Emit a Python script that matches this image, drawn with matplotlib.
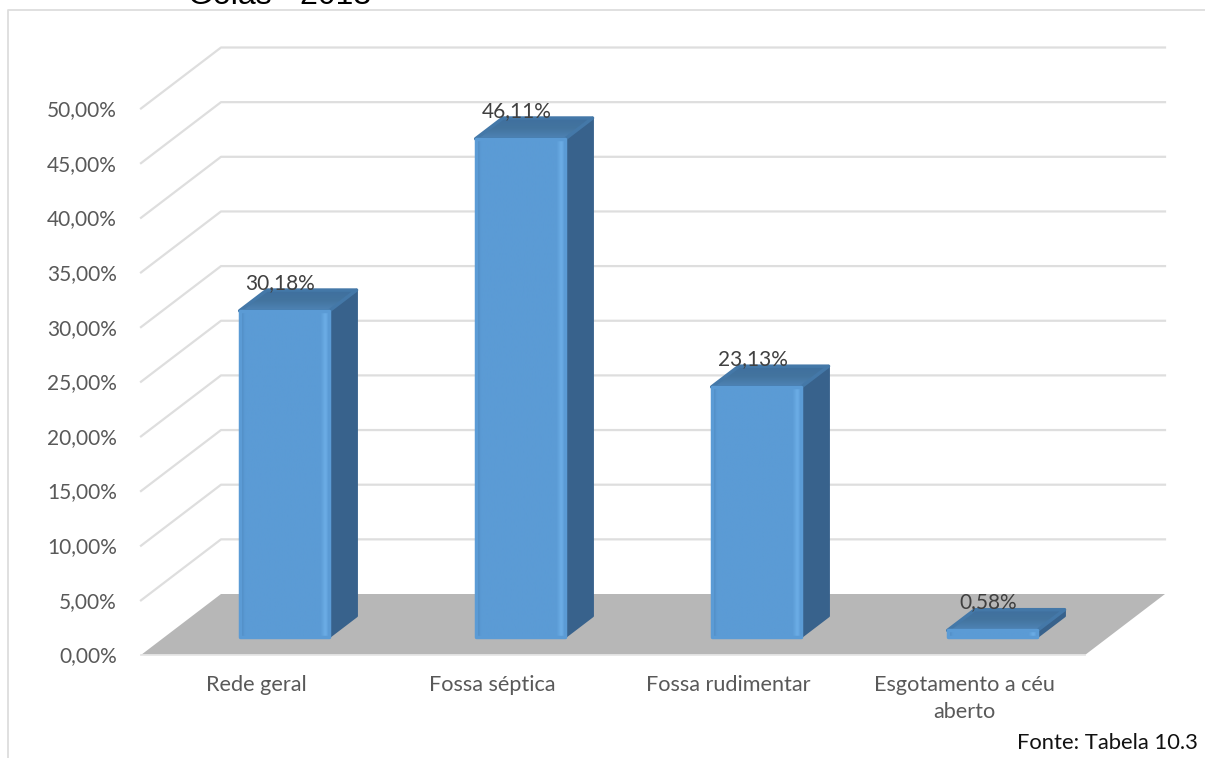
import numpy as np
import matplotlib
matplotlib.use('Agg')
import matplotlib.pyplot as plt
from matplotlib.colors import LinearSegmentedColormap
from matplotlib.patches import Polygon

categories = ['Rede geral', 'Fossa séptica', 'Fossa rudimentar', 'Esgotamento a céu\naberto']
values = [30.18, 46.11, 23.13, 0.58]
value_labels = ['30,18%', '46,11%', '23,13%', '0,58%']
yticks = [0, 5, 10, 15, 20, 25, 30, 35, 40, 45, 50]
ytick_labels = ['0,00%', '5,00%', '10,00%', '15,00%', '20,00%', '25,00%',
                '30,00%', '35,00%', '40,00%', '45,00%', '50,00%']

W, H = 1205, 758
plt.rcParams['font.family'] = ['Lato', 'DejaVu Sans']

fig = plt.figure(figsize=(W / 100, H / 100), dpi=100)

# frame round the chart, drawn in figure coordinates
fig.add_artist(plt.Line2D([8 / W, 8 / W, 1], [0, 1 - 10 / H, 1 - 10 / H], color='#dddddd', lw=1.3))
# the title is cut by the top edge in the reference too
fig.text(188 / W, 1 - 4 / H, 'Goiás - 2013', family='Liberation Sans', fontsize=23, color='black', va='baseline')
fig.text(1198 / W, 1 - 743 / H, 'Fonte: Tabela 10.3', fontsize=15.8, color='#111111', ha='right', va='center')

# axes: front plane of the 3d box
ax = fig.add_axes([141 / W, (H - 655) / H, 944 / W, 546.5 / H])
ax.axis('off')

# depth of the box in data units, one data unit is 236 px across and 10.93 px up
px_x = 1 / 236
px_y = 1 / 10.93
dx_depth = 80 * px_x
dy_depth = 61 * px_y


def proj(x, y, d):
    return (x + d * dx_depth, y + d * dy_depth)


front_cmap = LinearSegmentedColormap.from_list('front', [(0, '#4a84ba'), (0.05, '#5b9bd5'), (0.9, '#5b9bd5'),
                                                         (0.95, '#6cade6'), (1, '#5d9dd7')])
top_cmap = LinearSegmentedColormap.from_list('top', ['#3f6f9e', '#43749f', '#4f84b6'])


def shaded_poly(pts, cmap, vertical, z, edge):
    # gradient image clipped to a round joined polygon
    pts = np.array(pts)
    patch = Polygon(pts, closed=True, fc='none', ec=edge, lw=2.5, joinstyle='round', zorder=z + 0.1, clip_on=False)
    ax.add_patch(patch)
    grad = np.linspace(0, 1, 128).reshape(-1, 1) if vertical else np.linspace(0, 1, 128).reshape(1, -1)
    im = ax.imshow(grad, cmap=cmap, extent=(pts[:, 0].min(), pts[:, 0].max(), pts[:, 1].min(), pts[:, 1].max()),
                   origin='upper' if vertical else 'lower', aspect='auto', zorder=z, interpolation='bilinear')
    im.set_clip_path(patch)


# floor
ax.add_patch(Polygon([proj(0, 0, 0), proj(4, 0, 0), proj(4, 0, 1), proj(0, 0, 1)],
                     closed=True, fc='#b7b7b7', ec='none', zorder=1, clip_on=False))
ax.plot([0, 4], [0, 0], color='#e6e6e6', lw=1.3, zorder=1, clip_on=False)

# walls
for t, lab in zip(yticks, ytick_labels):
    if t > 0:
        xs, ys = zip(proj(0, t, 0), proj(0, t, 1), proj(4, t, 1))
        ax.plot(xs, ys, color='#dedede', lw=1.6, zorder=1, clip_on=False)
    ax.text(-24 * px_x, t - 1.5 * px_y, lab, ha='right', va='center', fontsize=15, color='#595959')

for i, c in enumerate(categories):
    ax.text(i + 0.5 - 3 * px_x, -20 * px_y, c, ha='center', va='top', fontsize=15.6, color='#595959', linespacing=1.42)

# bars, the perspective makes them a little shorter than the front plane scale
half = 0.19
d0, d1 = 0.3, 0.64
bar_scale = 0.988
for i, v in enumerate(values):
    cx = i + 0.5 + 1.5 * px_x
    h = v * bar_scale
    l, r = cx - half, cx + half
    # right side and top
    ax.add_patch(Polygon([proj(r, 0, d0), proj(r, 0, d1), proj(r, h, d1), proj(r, h, d0)],
                         closed=True, fc='#38628c', ec='#38628c', lw=2, joinstyle='round', zorder=3, clip_on=False))
    shaded_poly([proj(l, h, d0), proj(r, h, d0), proj(r, h, d1), proj(l, h, d1)], top_cmap, True, 3.5, '#4478a8')
    # front face
    x0, y0 = proj(l, 0, d0)
    x1, y1 = proj(r, h, d0)
    shaded_poly([(x0, y0), (x1, y0), (x1, y1), (x0, y1)], front_cmap, False, 4, '#5b9bd5')
    ax.text(cx - 4 * px_x + 24 * px_x, y1 + 28 * px_y, value_labels[i], ha='center', va='center', fontsize=15,
            color='#404040', zorder=6)

ax.set_xlim(0, 4)
ax.set_ylim(0, 50)

fig.savefig('out.png', dpi=100)
